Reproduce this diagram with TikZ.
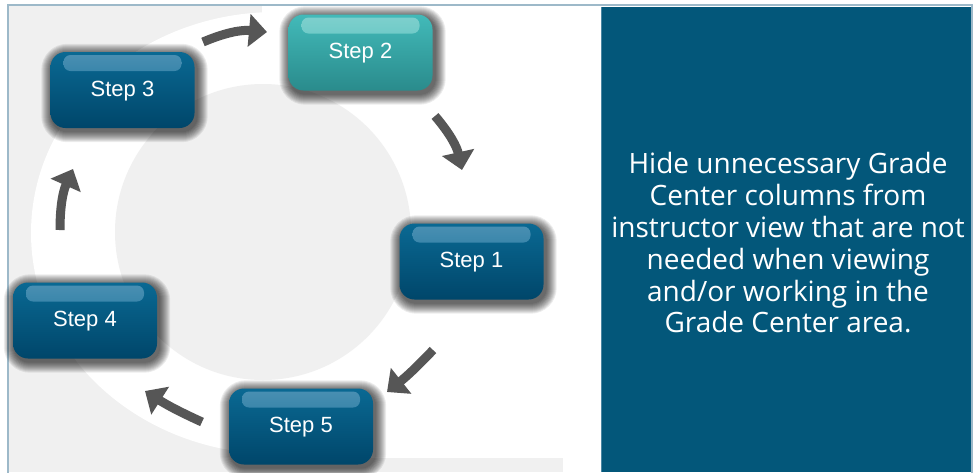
\documentclass[tikz,border=0pt]{standalone}
\usepackage{fontspec}
\setmainfont{Liberation Sans}
\newfontfamily\panelfont{Open Sans}
\usetikzlibrary{arrows.meta,calc}
\pgfdeclarelayer{backlayer}
\pgfdeclarelayer{shadowlayer}
\pgfsetlayers{backlayer,shadowlayer,main}
\definecolor{panelblue}{HTML}{03577A}
\definecolor{paneledge}{HTML}{4A86A3}
\definecolor{framec}{HTML}{9DB9C9}
\definecolor{bggray}{HTML}{F0F0F0}
\definecolor{boxtop}{HTML}{0A6993}
\definecolor{boxbot}{HTML}{00466A}
\definecolor{glosstop}{HTML}{4B90B3}
\definecolor{tealtop}{HTML}{42BAB9}
\definecolor{tealbot}{HTML}{2A8B8C}
\definecolor{tealgloss}{HTML}{7FD0CD}
\definecolor{arrowc}{HTML}{565656}
\tikzset{
  stepbox/.style={rounded corners=15pt, minimum width=144pt, minimum height=76pt,
    inner sep=0pt, text=white, font=\fontsize{22}{26}\selectfont,
    text height=12pt, text depth=0pt,
    top color=boxtop, bottom color=boxbot,
    path picture={\shade[top color=glosstop, bottom color=boxtop, rounded corners=7pt]
      ([xshift=13pt,yshift=-3pt]path picture bounding box.north west) rectangle
      ([xshift=-13pt,yshift=-19pt]path picture bounding box.north east);}},
  tealbox/.style={stepbox, top color=tealtop, bottom color=tealbot,
    path picture={\shade[top color=tealgloss, bottom color=tealtop, rounded corners=7pt]
      ([xshift=13pt,yshift=-3pt]path picture bounding box.north west) rectangle
      ([xshift=-13pt,yshift=-19pt]path picture bounding box.north east);}},
  cyc/.style={draw=arrowc, line width=9pt, -{Triangle[length=18pt,width=32pt]}},
}
\newcommand\boxglow[1]{%
  \foreach \i in {1,...,11}{%
    \fill[black, opacity=0.075, rounded corners={(15+\i)*1pt}]
      ([xshift={(2-\i)*1pt}, yshift={(-3-\i)*1pt}]#1.south west) rectangle
      ([xshift={(2+\i)*1pt}, yshift={(-3+\i)*1pt}]#1.north east);}}
\begin{document}
\begin{tikzpicture}[x=1pt,y=-1pt]
\useasboundingbox (0,0) rectangle (973,472);
\begin{pgfonlayer}{backlayer}
  \fill[white] (0,0) rectangle (973,472);
  \fill[bggray] (8,5) rectangle (563,472);
  \fill[white] (276,233) ellipse [x radius=245pt, y radius=221pt];
  \fill[white] (262,5) rectangle (563,458);
  \fill[bggray] (263,232) circle [radius=148pt];
  \draw[framec, line width=1.5pt] (8,5) rectangle (972,480);
  \fill[panelblue] (601,7) rectangle (971,472);
  \draw[paneledge, line width=1pt] (601.5,7) -- (601.5,472);
\end{pgfonlayer}

\node[tealbox] (s2) at (360.5,52.5) {Step 2};
\node[stepbox] (s3) at (122.5,90) {Step 3};
\node[stepbox] (s1) at (471.5,261.5) {Step 1};
\node[stepbox] (s4) at (85,320.5) {Step 4};
\node[stepbox] (s5) at (301,426.5) {Step 5};

\begin{pgfonlayer}{shadowlayer}
  \boxglow{s1}\boxglow{s2}\boxglow{s3}\boxglow{s4}\boxglow{s5}
\end{pgfonlayer}

\coordinate (a32s) at (203,42);  \coordinate (a32e) at (267,32);
\coordinate (a21s) at (435,116); \coordinate (a21e) at (462,170);
\coordinate (a15s) at (433,350); \coordinate (a15e) at (387,392);
\coordinate (a54s) at (202,422); \coordinate (a54e) at (145,391);
\coordinate (a43s) at (60,230);  \coordinate (a43e) at (73,169);

\draw[cyc] (a32s) to[bend left=14] (a32e);
\draw[cyc] (a21s) to[bend left=14] (a21e);
\draw[cyc] (a15s) to[bend left=4] (a15e);
\draw[cyc] (a54s) to[bend left=4] (a54e);
\draw[cyc] (a43s) to[bend left=12] (a43e);

\node[text=white, font=\panelfont\fontsize{28}{31.8}\selectfont, align=center]
  (desc) at (788,243) {Hide unnecessary Grade\\Center columns from\\instructor view that are not\\needed when viewing\\and/or working in the\\Grade Center area.};
\end{tikzpicture}
\end{document}
